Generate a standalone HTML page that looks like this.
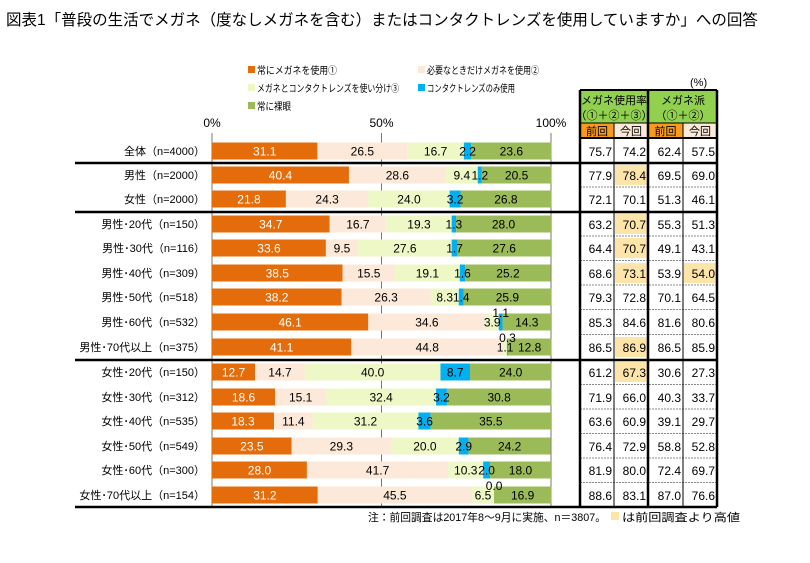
<!DOCTYPE html>
<html><head><meta charset="utf-8">
<style>
body{margin:0;background:#fff;width:810px;height:558px;overflow:hidden;font-family:"Liberation Sans","Noto Sans CJK JP",sans-serif}
svg text{font-family:"Liberation Sans","Noto Sans CJK JP",sans-serif}
</style></head><body>
<svg id="chart" width="810" height="558">
<text x="6" y="25" font-size="15.5" fill="#000">図表1「普段の生活でメガネ（度なしメガネを含む）またはコンタクトレンズを使用していますか」への回答</text>
<g id="legend"></g>
<g id="grid"></g><g id="bars"></g><g id="labels"></g><g id="table"></g>
<text x="368" y="521" font-size="11" textLength="238" lengthAdjust="spacingAndGlyphs">注：前回調査は2017年8～9月に実施、n＝3807。</text>
<rect x="611" y="512" width="8" height="8" fill="#fde4a8"/>
<text x="622" y="521" font-size="11" textLength="118" lengthAdjust="spacingAndGlyphs">は前回調査より高値</text>
<text x="690" y="86" font-size="11">(%)</text>
</svg>
<script>
const categories=["全体（n=4000）","男性（n=2000）","女性（n=2000）","男性･20代（n=150）","男性･30代（n=116）","男性･40代（n=309）","男性･50代（n=518）","男性･60代（n=532）","男性･70代以上（n=375）","女性･20代（n=150）","女性･30代（n=312）","女性･40代（n=535）","女性･50代（n=549）","女性･60代（n=300）","女性･70代以上（n=154）"];
const seriesNames=["常にメガネを使用①","必要なときだけメガネを使用②","メガネとコンタクトレンズを使い分け③","コンタクトレンズのみ使用","常に裸眼"];
const s1=[31.1,40.4,21.8,34.7,33.6,38.5,38.2,46.1,41.1,12.7,18.6,18.3,23.5,28.0,31.2];
const s2=[26.5,28.6,24.3,16.7,9.5,15.5,26.3,34.6,44.8,14.7,15.1,11.4,29.3,41.7,45.5];
const s3=[16.7,9.4,24.0,19.3,27.6,19.1,8.3,3.9,1.1,40.0,32.4,31.2,20.0,10.3,6.5];
const s4=[2.2,1.2,3.2,1.3,1.7,1.6,1.4,1.1,0.3,8.7,3.2,3.6,2.9,2.0,0.0];
const s5=[23.6,20.5,26.8,28.0,27.6,25.2,25.9,14.3,12.8,24.0,30.8,35.5,24.2,18.0,16.9];
const prevUse=[75.7,77.9,72.1,63.2,64.4,68.6,79.3,85.3,86.5,61.2,71.9,63.6,76.4,81.9,88.6];
const currUse=[74.2,78.4,70.1,70.7,70.7,73.1,72.8,84.6,86.9,67.3,66.0,60.9,72.9,80.0,83.1];
const prevGl=[62.4,69.5,51.3,55.3,49.1,53.9,70.1,81.6,86.5,30.6,40.3,39.1,58.8,72.4,87.0];
const currGl=[57.5,69.0,46.1,51.3,43.1,54.0,64.5,80.6,85.9,27.3,33.7,29.7,52.8,69.7,76.6];
const axisTicks=["0%","50%","100%"];
const tickVals=[0,50,100];

const NS="http://www.w3.org/2000/svg";
function mk(p,t,a){const e=document.createElementNS(NS,t);for(const k in a)e.setAttribute(k,a[k]);p.appendChild(e);return e;}
const X0=212,SC=3.39;
const xs=v=>X0+v*SC;
const rowY=[151,175,199,224,248,273,297,322,347,372,397,421,446,470,495];
const yRow=i=>rowY[i];
const colors=["#e46c0a","#fde9d9","#eef7c6","#00b0f0","#9bbb59"];
const series=[s1,s2,s3,s4,s5];
const svg=document.getElementById('chart');
const lg=document.getElementById('legend'),gg=document.getElementById('grid'),bg=document.getElementById('bars'),lb=document.getElementById('labels'),tb=document.getElementById('table');

// legend
const legPos=[[248,74],[418,74],[248,92],[418,92],[248,110]];
const legLen=[80,112,142,88,34];
seriesNames.forEach((n,i)=>{
  const r=mk(lg,'rect',{x:legPos[i][0],y:legPos[i][1]-8,width:7,height:7,fill:colors[i]});
  
  
  const t=mk(lg,'text',{x:legPos[i][0]+9,y:legPos[i][1],'font-size':10,textLength:legLen[i],lengthAdjust:'spacingAndGlyphs'});
  t.textContent=n;
  
  
});
// ticks
tickVals.forEach((v,i)=>{
  const t=mk(gg,'text',{x:xs(v),y:127,'font-size':12,'text-anchor':'middle'});
  t.textContent=axisTicks[i];
  
  
});
// bars
categories.forEach((c,i)=>{
  const y=yRow(i);
  const t=mk(lb,'text',{x:205,y:y+4,'font-size':11,'text-anchor':'end'});
  t.textContent=c;
  
  
  let acc=0;
  series.forEach((s,k)=>{
    const v=s[i];
    const r=mk(bg,'rect',{x:xs(acc),y:y-8.5,width:Math.max(v*SC,0.01),height:17,fill:colors[k]});
    
    
    const above=(k===3&&v<1.2);
    const cx=xs(acc+v/2);
    const tl=mk(lb,'text',{x:cx,y:above?y-5:y+4.5,'font-size':12,'text-anchor':'middle',fill:k===0?'#fff':'#000'});
    tl.textContent=v.toFixed(1);
    
    
    acc+=v;
  });
});
// grid lines
tickVals.forEach(v=>{mk(gg,'line',{x1:xs(v),x2:xs(v),y1:133,y2:506,stroke:'#777','stroke-width':1});});
// horizontal separators
[163,212,360].forEach(y=>{mk(svg,'line',{x1:75,x2:717,y1:y,y2:y,stroke:'#000','stroke-width':2.5});});
mk(svg,'line',{x1:75,x2:717,y1:507,y2:507,stroke:'#000','stroke-width':2.5});
// table
const cx=[580,614,648,683,717];
const hdr=mk(tb,'g',{});


mk(hdr,'rect',{x:580,y:90,width:137,height:33,fill:'#92d050'});
mk(hdr,'rect',{x:580,y:123,width:34,height:15,fill:'#f79a1e'});
mk(hdr,'rect',{x:648,y:123,width:35,height:15,fill:'#f79a1e'});
mk(hdr,'rect',{x:614,y:123,width:34,height:15,fill:'#fde9d9'});
mk(hdr,'rect',{x:683,y:123,width:34,height:15,fill:'#fde9d9'});
[["メガネ使用率",614,104],["（①＋②＋③）",614,119],["メガネ派",683,104],["（①＋②）",683,119]].forEach(a=>{const t=mk(hdr,'text',{x:a[1],y:a[2],'font-size':11,'text-anchor':'middle'});t.textContent=a[0];});
["前回","今回","前回","今回"].forEach((s,j)=>{const t=mk(hdr,'text',{x:(cx[j]+cx[j+1])/2,y:135,'font-size':11,'text-anchor':'middle'});t.textContent=s;});
const cols=[prevUse,currUse,prevGl,currGl];
categories.forEach((c,i)=>{
  const y=yRow(i);
  cols.forEach((arr,j)=>{
    const hi=(j===1&&currUse[i]>prevUse[i])||(j===3&&currGl[i]>prevGl[i]);
    if(hi){const r=mk(tb,'rect',{x:cx[j]+1,y:y-10,width:cx[j+1]-cx[j]-2,height:20,fill:'#fde4a8'});
      
      }
    const t=mk(tb,'text',{x:cx[j+1]-2,y:y+5,'font-size':12,'text-anchor':'end'});
    t.textContent=arr[i].toFixed(1);
    
    
  });
  if(i<categories.length-1 && ![0,2,8].includes(i)){
    const ym=(rowY[i]+rowY[i+1])/2;
    mk(tb,'line',{x1:580,x2:717,y1:ym,y2:ym,stroke:'#888','stroke-dasharray':'2,1'});
  }
});
mk(tb,'line',{x1:580,x2:717,y1:138,y2:138,stroke:'#000','stroke-width':2});
mk(tb,'line',{x1:580,x2:717,y1:123,y2:123,stroke:'#000','stroke-width':1});
mk(tb,'line',{x1:580,x2:717,y1:90,y2:90,stroke:'#000','stroke-width':2});
[580,648,717].forEach(x=>mk(tb,'line',{x1:x,x2:x,y1:90,y2:507,stroke:'#000','stroke-width':2.5}));
[614,683].forEach(x=>mk(tb,'line',{x1:x,x2:x,y1:123,y2:507,stroke:'#000','stroke-width':1}));
</script>
</body></html>
